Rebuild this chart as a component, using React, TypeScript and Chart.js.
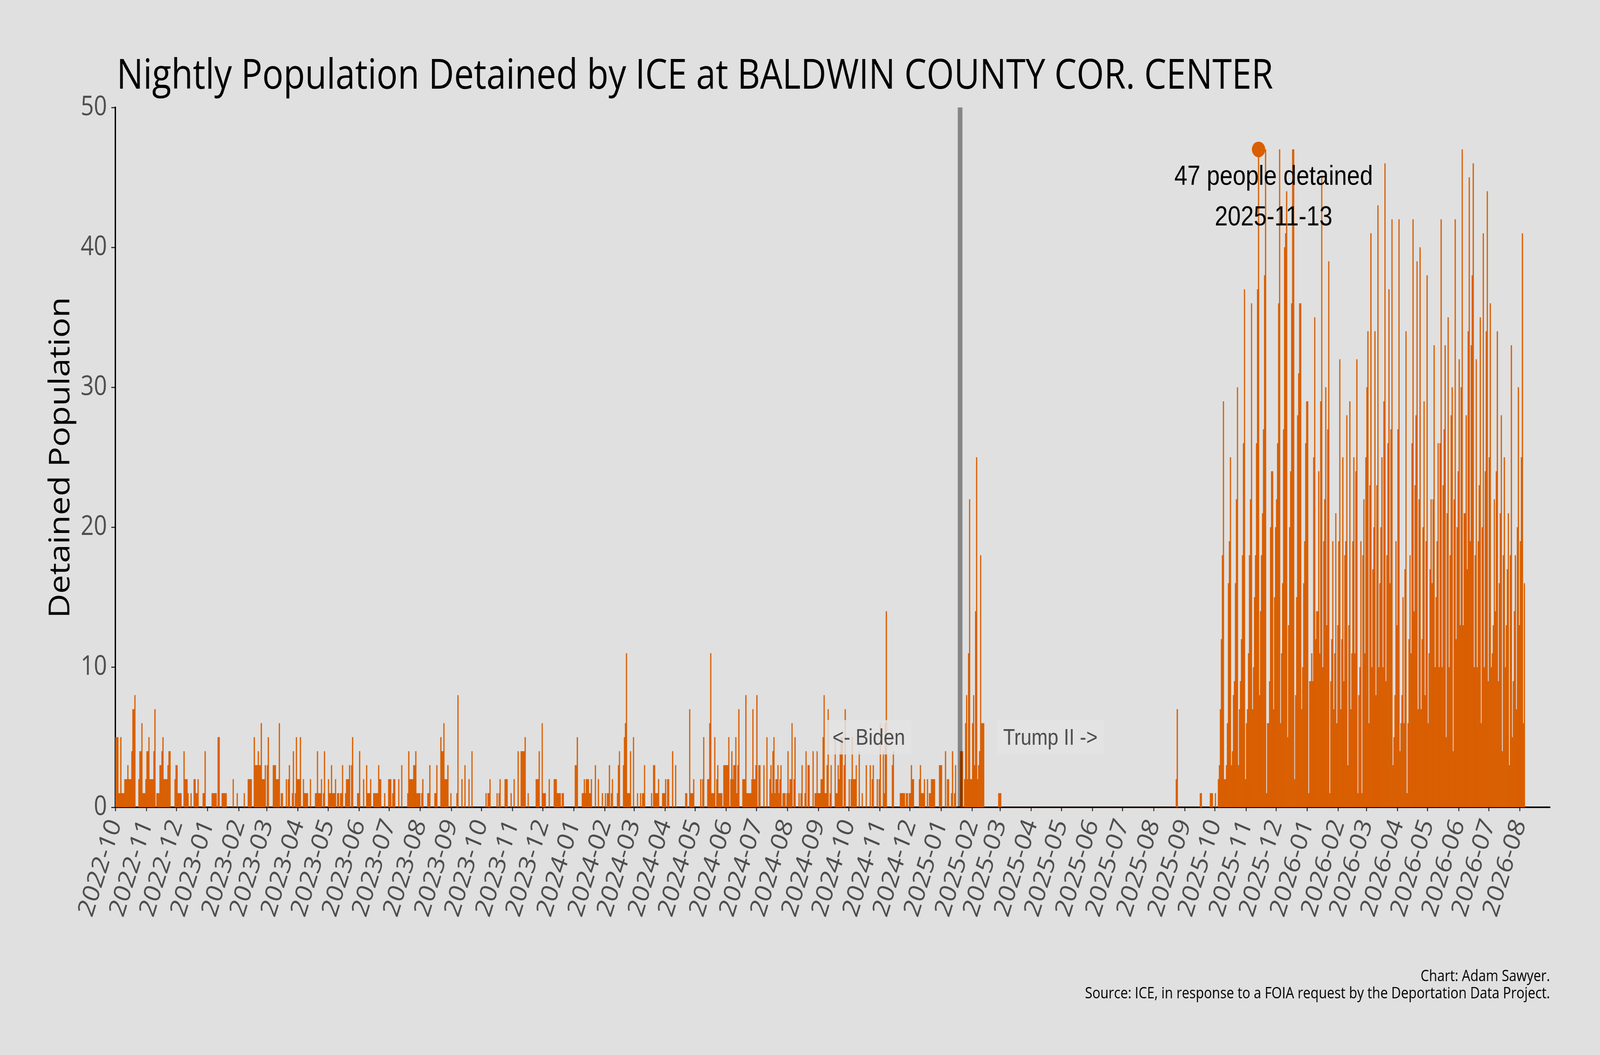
import React, { useEffect, useRef } from 'react';
import { Chart, registerables } from 'chart.js';

// Register all Chart.js components
Chart.register(...registerables);

const firstNight = '2022-10-01';

// Nightly population, one value per night starting at firstNight
const nightsOct22Apr23 = [
    5, 5, 5, 1, 1, 5, 1, 1, 1, 2, 2, 2, 3, 2, 2, 2, 4, 7, 7, 8,
    0, 0, 0, 2, 4, 4, 6, 1, 1, 1, 2, 4, 4, 5, 2, 2, 2, 2, 4, 7,
    0, 1, 1, 1, 3, 3, 4, 5, 2, 2, 2, 2, 3, 4, 4, 0, 0, 0, 0, 2,
    3, 3, 1, 1, 1, 1, 0, 0, 4, 2, 2, 2, 1, 0, 0, 1, 0, 0, 2, 2,
    1, 1, 2, 0, 0, 0, 0, 1, 1, 4, 0, 0, 0, 0, 0, 0, 1, 1, 1, 1,
    1, 0, 5, 5, 0, 0, 1, 1, 1, 1, 1, 0, 0, 0, 0, 0, 0, 2, 0, 0,
    0, 1, 0, 0, 0, 0, 0, 0, 1, 0, 0, 0, 2, 2, 2, 2, 0, 0, 5, 3,
    3, 3, 4, 3, 3, 6, 2, 2, 2, 3, 0, 3, 5, 0, 0, 0, 0, 3, 3, 3,
    2, 2, 2, 6, 0, 1, 1, 0, 0, 0, 2, 0, 2, 3, 0, 0, 1, 4, 0, 1,
    5, 2, 2, 2, 5, 0, 0, 2, 1, 1, 1, 1, 0, 0, 2, 0, 0, 0, 0, 1,
    1, 4, 1, 1, 1, 2, 0, 1, 4,
];

const nightsApr23Nov23 = [
    0, 0, 0, 2, 1, 1, 3, 1, 1, 1, 2, 0, 1, 1, 0, 1, 1, 3, 0, 0,
    1, 2, 2, 2, 3, 0, 3, 5, 0, 0, 0, 0, 1, 1, 4, 0, 0, 0, 2, 0,
    0, 3, 1, 1, 1, 2, 0, 0, 1, 1, 1, 1, 1, 3, 2, 2, 0, 0, 0, 1,
    0, 0, 0, 2, 2, 2, 0, 1, 2, 2, 0, 0, 0, 2, 0, 0, 3, 0, 0, 0,
    0, 0, 1, 4, 2, 2, 2, 2, 3, 3, 4, 1, 1, 1, 1, 0, 1, 2, 0, 0,
    0, 0, 1, 1, 3, 0, 0, 0, 0, 1, 1, 3, 0, 0, 0, 5, 4, 4, 6, 2,
    2, 2, 3, 0, 0, 1, 0, 0, 0, 0, 0, 1, 8, 0, 0, 0, 2, 0, 0, 3,
    0, 0, 0, 2, 0, 0, 4, 0, 0, 0, 0, 0, 0, 0, 0, 0, 0, 0, 0, 0,
    1, 0, 1, 1, 2, 0, 0, 0, 0, 0, 0, 1, 0, 1, 2, 0, 0, 0, 0, 2,
    2, 2, 0, 0, 0, 1, 0, 0, 2, 0, 0, 0, 4, 0, 0, 4, 4, 4, 4, 5,
    0, 0, 1, 0, 0, 0, 0, 0,
];

const nightsNov23Jun24 = [
    0, 0, 2, 2, 2, 4, 0, 0, 6, 1, 1, 1, 0, 0, 0, 2, 0, 0, 0, 0,
    2, 2, 2, 1, 1, 1, 1, 0, 1, 1, 0, 0, 0, 0, 0, 0, 0, 0, 0, 0,
    0, 3, 3, 5, 0, 0, 0, 0, 1, 1, 2, 1, 2, 2, 2, 1, 1, 2, 0, 0,
    0, 3, 0, 0, 2, 0, 0, 0, 1, 0, 0, 1, 0, 1, 1, 3, 0, 1, 2, 0,
    0, 0, 0, 1, 3, 4, 0, 0, 0, 3, 5, 6, 11, 1, 1, 1, 4, 0, 0, 5,
    0, 0, 0, 1, 0, 0, 1, 0, 1, 1, 3, 0, 0, 0, 0, 0, 0, 1, 0, 3,
    3, 1, 1, 1, 2, 0, 0, 0, 1, 1, 1, 2, 0, 2, 2, 0, 0, 0, 4, 0,
    0, 3, 0, 0, 0, 0, 0, 0, 0, 0, 0, 1, 1, 0, 0, 7, 1, 1, 1, 2,
    0, 0, 0, 0, 0, 0, 2, 0, 2, 5, 0, 0, 0, 2, 2, 6, 11, 1, 1, 1,
    5, 0, 2, 3, 1, 1, 1, 1, 0, 3, 3, 3, 3, 3, 5, 0, 2, 4, 2, 3,
    3, 5, 1, 3, 7, 0, 0, 0, 2, 2, 2, 8, 1,
];

const nightsJun24Jan25 = [
    1, 1, 1, 1, 2, 7, 2, 2, 3, 8, 0, 3, 3, 0, 0, 0, 3, 0, 0, 5,
    0, 0, 2, 3, 1, 4, 5, 1, 2, 2, 3, 1, 2, 3, 0, 1, 1, 1, 0, 1,
    4, 1, 2, 2, 6, 0, 2, 5, 0, 0, 0, 1, 0, 1, 3, 0, 0, 1, 4, 0,
    3, 3, 0, 0, 0, 4, 0, 1, 1, 4, 1, 1, 1, 2, 2, 5, 8, 1, 1, 3,
    7, 0, 1, 3, 0, 0, 0, 5, 1, 1, 3, 2, 4, 5, 5, 0, 3, 7, 0, 0,
    0, 2, 0, 2, 5, 2, 2, 2, 3, 0, 0, 4, 0, 0, 1, 0, 0, 0, 3, 0,
    0, 0, 3, 0, 2, 3, 0, 0, 0, 2, 0, 2, 6, 0, 0, 4, 1, 6, 14, 0,
    0, 0, 0, 0, 3, 4, 0, 0, 0, 0, 0, 0, 1, 1, 1, 1, 1, 0, 1, 1,
    0, 1, 1, 3, 2, 2, 0, 0, 0, 0, 0, 2, 3, 1, 1, 1, 2, 0, 0, 2,
    0, 1, 1, 2, 2, 2, 2, 0, 0, 0, 0, 3, 3, 3, 0, 0, 0, 4, 0, 2,
    2, 0, 0, 1, 4, 0, 1, 3, 0, 0, 0, 0,
];

const nightsJan25Sep25 = [
    4, 4, 4, 0, 2, 6, 8, 2, 11, 22, 2, 2, 6, 8, 3, 14, 25, 2, 3, 4,
    18, 6, 6, 6, 0, 0, 0, 0, 0, 0, 0, 0, 0, 0, 0, 0, 0, 0, 1, 1,
    1, 0, 0, 0, 0, 0, 0, 0, 0, 0, 0, 0, 0, 0, 0, 0, 0, 0, 0, 0,
    0, 0, 0, 0, 0, 0, 0, 0, 0, 0, 0, 0, 0, 0, 0, 0, 0, 0, 0, 0,
    0, 0, 0, 0, 0, 0, 0, 0, 0, 0, 0, 0, 0, 0, 0, 0, 0, 0, 0, 0,
    0, 0, 0, 0, 0, 0, 0, 0, 0, 0, 0, 0, 0, 0, 0, 0, 0, 0, 0, 0,
    0, 0, 0, 0, 0, 0, 0, 0, 0, 0, 0, 0, 0, 0, 0, 0, 0, 0, 0, 0,
    0, 0, 0, 0, 0, 0, 0, 0, 0, 0, 0, 0, 0, 0, 0, 0, 0, 0, 0, 0,
    0, 0, 0, 0, 0, 0, 0, 0, 0, 0, 0, 0, 0, 0, 0, 0, 0, 0, 0, 0,
    0, 0, 0, 0, 0, 0, 0, 0, 0, 0, 0, 0, 0, 0, 0, 0, 0, 0, 0, 0,
    0, 0, 0, 0, 0, 0, 0, 0, 0, 0, 0, 0, 0, 0, 0, 2, 7, 0, 0, 0,
    0, 0, 0, 0, 0, 0, 0, 0, 0, 0, 0, 0, 0, 0, 0, 0, 0, 0, 0, 1,
    1, 0, 0, 0, 0, 0, 0, 0, 0,
];

const nightsSep25Aug26 = [
    1, 1, 1, 0, 0, 1, 0, 0, 2, 3, 7, 12, 18, 29, 2, 2, 3, 6, 16, 19,
    25, 3, 4, 8, 9, 16, 22, 30, 3, 7, 9, 12, 18, 26, 37, 2, 6, 7, 11, 18,
    22, 36, 7, 10, 15, 18, 26, 37, 47, 8, 14, 18, 21, 27, 38, 47, 1, 6, 6, 9,
    20, 24, 24, 7, 15, 20, 22, 26, 36, 47, 6, 11, 16, 27, 40, 41, 44, 5, 13, 20,
    24, 36, 47, 47, 2, 8, 15, 28, 31, 36, 36, 7, 10, 16, 19, 26, 29, 29, 1, 9,
    9, 11, 9, 25, 35, 12, 14, 14, 24, 11, 29, 45, 10, 19, 22, 30, 13, 27, 39, 1,
    9, 12, 19, 7, 11, 21, 6, 13, 19, 32, 7, 12, 25, 9, 18, 19, 28, 3, 13, 29,
    7, 11, 19, 25, 11, 24, 32, 1, 8, 10, 19, 1, 18, 22, 11, 25, 30, 34, 6, 23,
    41, 10, 17, 20, 34, 8, 23, 43, 10, 16, 20, 25, 10, 29, 46, 9, 18, 26, 37, 16,
    27, 42, 3, 5, 8, 19, 13, 27, 42, 4, 6, 8, 15, 6, 17, 34, 1, 6, 12, 18,
    11, 26, 42, 14, 23, 28, 39, 7, 22, 40, 7, 12, 20, 29, 8, 19, 38, 6, 11, 17,
    22, 16, 22, 33, 10, 15, 19, 26, 10, 26, 42, 10, 23, 27, 33, 5, 21, 35, 10, 18,
    28, 30, 4, 22, 42, 12, 20, 24, 32, 13, 30, 47, 13, 21, 21, 28, 17, 34, 45, 19,
    33, 38, 46, 10, 18, 32, 10, 19, 23, 35, 6, 20, 41, 10, 24, 34, 44, 9, 25, 36,
    10, 11, 13, 22, 14, 24, 34, 9, 16, 21, 28, 4, 18, 25, 10, 13, 17, 21, 3, 18,
    33, 5, 9, 14, 18, 7, 20, 30, 13, 19, 25, 41, 6, 16,
];

const monthLabels = [
    '2022-10', '2022-11', '2022-12', '2023-01', '2023-02', '2023-03', '2023-04', '2023-05',
    '2023-06', '2023-07', '2023-08', '2023-09', '2023-10', '2023-11', '2023-12', '2024-01',
    '2024-02', '2024-03', '2024-04', '2024-05', '2024-06', '2024-07', '2024-08', '2024-09',
    '2024-10', '2024-11', '2024-12', '2025-01', '2025-02', '2025-03', '2025-04', '2025-05',
    '2025-06', '2025-07', '2025-08', '2025-09', '2025-10', '2025-11', '2025-12', '2026-01',
    '2026-02', '2026-03', '2026-04', '2026-05', '2026-06', '2026-07', '2026-08',
];

const peakDate = '2025-11-13';
const peakValue = 47;
const peakText = ['47 people detained', '2025-11-13'];
const handoverDate = '2025-01-20';
const eraText = ['<- Biden', 'Trump II ->'];

const titleText = 'Nightly Population Detained by ICE at BALDWIN COUNTY COR. CENTER';
const yTitleText = 'Detained Population';
const captionText = ['Chart: Adam Sawyer.', 'Source: ICE, in response to a FOIA request by the Deportation Data Project.'];

const DAY_MS = 86400000;
const dayIndex = (iso: string) => Math.round((Date.parse(iso + 'T00:00:00Z') - Date.parse(firstNight + 'T00:00:00Z')) / DAY_MS);

const W = 4800;
const H = 2700;
const BAR = '#d95f02';
const GREY_TEXT = '#4d4d4d';
const SANS = '"Open Sans", "Noto Sans", sans-serif';
const ARIAL = '"Liberation Sans", Arial, sans-serif';

// font size that makes text span the given width (capped)
const fitFont = (ctx: CanvasRenderingContext2D, text: string, family: string, target: number, max: number) => {
    ctx.font = `100px ${family}`;
    const w = ctx.measureText(text).width;
    return `${Math.min(max, (100 * target) / w).toFixed(1)}px ${family}`;
};

export default function App() {
    const canvasRef = useRef<HTMLCanvasElement>(null);
    const chartInstance = useRef<Chart | null>(null);

    useEffect(() => {
        const canvas = canvasRef.current;
        if (!canvas) return;

        const nightly = [
            ...nightsOct22Apr23,
            ...nightsApr23Nov23,
            ...nightsNov23Jun24,
            ...nightsJun24Jan25,
            ...nightsJan25Sep25,
            ...nightsSep25Aug26,
        ];
        const bars = nightly.map((v, i) => ({ x: i + 0.5, y: v }));
        const monthTicks = monthLabels.map(m => dayIndex(m + '-01'));
        const peakX = dayIndex(peakDate) + 0.5;
        const handoverX = dayIndex(handoverDate);

        const decor = {
            id: 'decor',
            beforeDraw(chart: any) {
                const { ctx, width, height } = chart;
                ctx.save();
                ctx.fillStyle = '#e0e0e0';
                ctx.fillRect(0, 0, width, height);
                ctx.restore();
            },
            afterDatasetsDraw(chart: any) {
                const { ctx } = chart;
                const xs = chart.scales.x;
                const ys = chart.scales.y;
                ctx.save();

                // administration change
                const lx = xs.getPixelForValue(handoverX);
                ctx.strokeStyle = 'rgba(0,0,0,0.4)';
                ctx.lineWidth = 14;
                ctx.beginPath();
                ctx.moveTo(lx, ys.getPixelForValue(50));
                ctx.lineTo(lx, ys.getPixelForValue(0));
                ctx.stroke();

                // era labels with pale boxes
                const eraX = [751, 932];
                ctx.font = `58px ${ARIAL}`;
                ctx.textAlign = 'center';
                ctx.textBaseline = 'middle';
                eraText.forEach((t, i) => {
                    const cx = xs.getPixelForValue(eraX[i]);
                    const cy = ys.getPixelForValue(5);
                    const w = ctx.measureText(t).width + 38;
                    const h = 88;
                    ctx.fillStyle = 'rgba(227,227,227,0.85)';
                    ctx.fillRect(cx - w / 2, cy - h / 2, w, h);
                    ctx.fillStyle = GREY_TEXT;
                    ctx.fillText(t, cx, cy + 3);
                });

                // peak annotation
                ctx.fillStyle = '#000';
                ctx.font = `70px ${ARIAL}`;
                const px = xs.getPixelForValue(1154.5);
                ctx.fillText(peakText[0], px, ys.getPixelForValue(45.0));
                ctx.fillText(peakText[1], px, ys.getPixelForValue(42.1));
                ctx.restore();
            },
            afterDraw(chart: any) {
                const { ctx } = chart;
                ctx.save();
                ctx.fillStyle = '#000';

                // title
                ctx.textAlign = 'left';
                ctx.textBaseline = 'alphabetic';
                ctx.font = fitFont(ctx, titleText, SANS, 3470, 110);
                ctx.fillText(titleText, 350, 227);

                // y axis title
                ctx.save();
                ctx.translate(208, 1171);
                ctx.rotate(-Math.PI / 2);
                ctx.textAlign = 'center';
                ctx.font = fitFont(ctx, yTitleText, SANS, 824, 86);
                ctx.fillText(yTitleText, 0, 0);
                ctx.restore();

                // captions
                ctx.textAlign = 'right';
                ctx.font = fitFont(ctx, captionText[1], SANS, 1396, 42);
                ctx.fillText(captionText[0], 4650, 2511);
                ctx.fillText(captionText[1], 4650, 2555);
                ctx.restore();
            },
        };

        let cancelled = false;
        const families = ['66px "Open Sans"', '70px "Liberation Sans"'];
        Promise.all(families.map(f => document.fonts.load(f).catch(() => null))).then(() => {
            if (cancelled) return;
            const ctx = canvas.getContext('2d');
            if (!ctx) return;
            if (chartInstance.current) chartInstance.current.destroy();

            chartInstance.current = new Chart(ctx, {
                type: 'bar',
                data: {
                    datasets: [
                        {
                            type: 'scatter',
                            data: [{ x: peakX, y: peakValue }],
                            backgroundColor: BAR,
                            borderWidth: 0,
                            pointRadius: 20,
                            order: 0,
                        } as any,
                        {
                            type: 'bar',
                            data: bars,
                            backgroundColor: BAR,
                            borderWidth: 0,
                            barPercentage: 1,
                            categoryPercentage: 1,
                            order: 1,
                        },
                    ],
                },
                options: {
                    responsive: false,
                    devicePixelRatio: 1,
                    animation: false,
                    events: [],
                    layout: { padding: { top: 275, right: 150, left: 0, bottom: 0 } },
                    plugins: {
                        legend: { display: false },
                        tooltip: { enabled: false },
                        title: { display: false },
                    },
                    scales: {
                        x: {
                            type: 'linear',
                            min: 0,
                            max: 1430,
                            offset: false,
                            grid: {
                                display: true,
                                offset: false,
                                drawOnChartArea: false,
                                drawTicks: true,
                                tickLength: 10,
                                tickWidth: 3,
                                tickColor: '#333333',
                            },
                            border: { display: true, color: '#000', width: 4 },
                            ticks: {
                                autoSkip: false,
                                minRotation: 70,
                                maxRotation: 70,
                                padding: 10,
                                color: GREY_TEXT,
                                font: { family: 'Open Sans', size: 69 },
                                callback: (_v: any, i: number) => monthLabels[i],
                            },
                            afterBuildTicks: (scale: any) => {
                                scale.ticks = monthTicks.map(v => ({ value: v }));
                            },
                            afterFit: (scale: any) => {
                                scale.height = 634;
                            },
                        },
                        y: {
                            type: 'linear',
                            min: 0,
                            max: 50,
                            grid: {
                                display: true,
                                drawOnChartArea: false,
                                drawTicks: true,
                                tickLength: 12,
                                tickWidth: 3,
                                tickColor: '#333333',
                            },
                            border: { display: true, color: '#000', width: 4 },
                            ticks: {
                                stepSize: 10,
                                padding: 13,
                                color: GREY_TEXT,
                                font: { family: 'Open Sans', size: 69 },
                            },
                            afterFit: (scale: any) => {
                                scale.width = 346;
                            },
                        },
                    },
                },
                plugins: [decor],
            } as any);
        });

        return () => {
            cancelled = true;
            if (chartInstance.current) chartInstance.current.destroy();
            chartInstance.current = null;
        };
    }, []);

    // the canvas keeps a 4800x2700 drawing surface and is fitted to the viewport
    return (
        <div style={{ position: 'fixed', left: 0, top: 0, width: '100vw', height: '100vh', background: '#e0e0e0', overflow: 'hidden' }}>
            <canvas ref={canvasRef} width={W} height={H} style={{ display: 'block', width: '100vw', height: '100vh' }} />
        </div>
    );
}
